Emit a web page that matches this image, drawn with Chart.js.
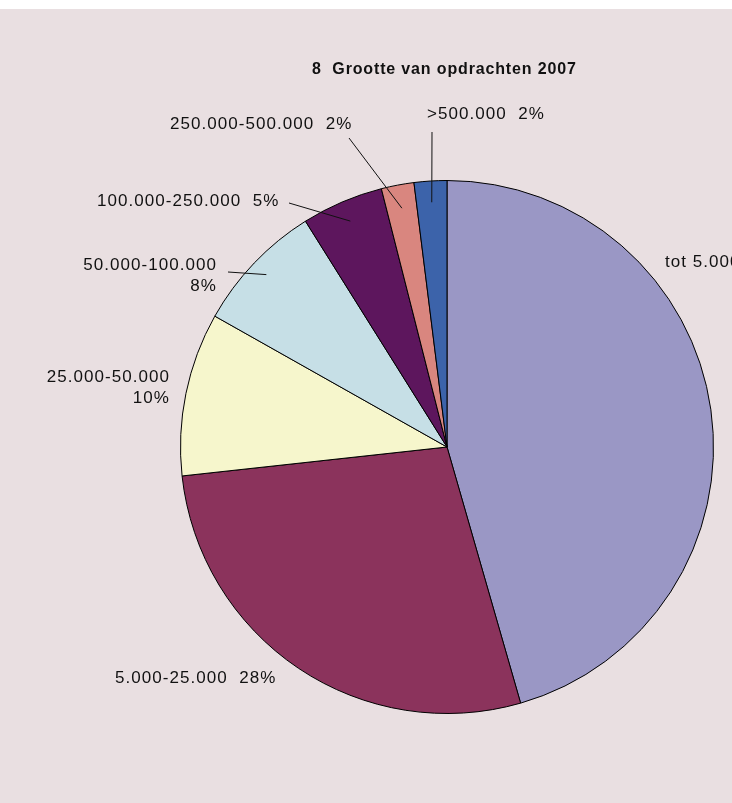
<!DOCTYPE html>
<html>
<head>
<meta charset="utf-8">
<script src="https://cdn.jsdelivr.net/npm/chart.js@4/dist/chart.umd.min.js"></script>
<style>
  html, body { margin: 0; padding: 0; background: #ffffff; }
  #wrap { position: absolute; left: 0; top: 9px; width: 732px; height: 794px; background: #e9dfe1; overflow: hidden; }
  canvas { display: block; }
</style>
</head>
<body>
<div id="wrap"><canvas id="chart" width="732" height="794"></canvas></div>
<script>
// Order size classes of assignments, 2007 (share of number of assignments, %)
const chartTitle = '8  Grootte van opdrachten 2007';
const categories = ['tot 5.000', '5.000-25.000', '25.000-50.000', '50.000-100.000', '100.000-250.000', '250.000-500.000', '>500.000'];
const shares = [46, 28, 10, 8, 5, 2, 2];
const sliceColors = ['#9a97c5', '#8b335c', '#f6f6cc', '#c6dfe6', '#5d165d', '#d9867f', '#3c63aa'];

// Where each slice label sits (canvas px); two-line labels break before the percentage.
// Leaders start inside the slice at k * radius along its middle angle.
const labelLayout = [
  { x: 665, y: 258, align: 'left',  twoLine: false, leader: null },
  { x: 115, y: 674, align: 'left',  twoLine: false, leader: null },
  { x: 170, y: 373, align: 'right', twoLine: true,  leader: null },
  { x: 217, y: 261, align: 'right', twoLine: true,  leader: { to: [228, 263], k: 0.937 } },
  { x: 97,  y: 197, align: 'left',  twoLine: false, leader: { to: [289, 194], k: 0.922 } },
  { x: 170, y: 120, align: 'left',  twoLine: false, leader: { to: [349, 129], k: 0.912 } },
  { x: 427, y: 110, align: 'left',  twoLine: false, leader: { to: [432, 123], k: 0.92 } }
];

const sliceLabels = {
  id: 'sliceLabels',
  afterDatasetsDraw(chart) {
    const ctx = chart.ctx;
    const meta = chart.getDatasetMeta(0);
    ctx.save();

    // title
    ctx.fillStyle = '#111111';
    ctx.font = 'bold 16px "Liberation Sans", Arial, sans-serif';
    ctx.letterSpacing = '0.85px';
    ctx.textAlign = 'left';
    ctx.textBaseline = 'alphabetic';
    ctx.fillText(chartTitle, 312, 65);

    // leader lines
    ctx.strokeStyle = '#111111';
    ctx.lineWidth = 1;
    meta.data.forEach((arc, i) => {
      const lay = labelLayout[i];
      if (!lay.leader) return;
      const p = arc.getProps(['x', 'y', 'startAngle', 'endAngle', 'outerRadius'], true);
      const mid = (p.startAngle + p.endAngle) / 2;
      const r = p.outerRadius * lay.leader.k;
      ctx.beginPath();
      ctx.moveTo(p.x + Math.cos(mid) * r, p.y + Math.sin(mid) * r);
      ctx.lineTo(lay.leader.to[0], lay.leader.to[1]);
      ctx.stroke();
    });

    // labels
    ctx.font = '17px "Liberation Sans", Arial, sans-serif';
    ctx.letterSpacing = '1.05px';
    categories.forEach((name, i) => {
      const lay = labelLayout[i];
      const pct = shares[i] + '%';
      ctx.textAlign = lay.align;
      if (lay.twoLine) {
        ctx.fillText(name, lay.x, lay.y);
        ctx.fillText(pct, lay.x, lay.y + 21);
      } else {
        ctx.fillText(name + '  ' + pct, lay.x, lay.y);
      }
    });
    ctx.restore();
  }
};

new Chart(document.getElementById('chart'), {
  type: 'pie',
  data: {
    labels: categories,
    datasets: [{
      data: shares,
      backgroundColor: sliceColors,
      borderColor: '#000000',
      borderWidth: 1,
      hoverBorderWidth: 1,
      hoverOffset: 0
    }]
  },
  options: {
    responsive: false,
    devicePixelRatio: 1,
    animation: false,
    rotation: 0,
    layout: { padding: { left: 180, right: 18, top: 171, bottom: 89 } },
    plugins: {
      legend: { display: false },
      tooltip: { enabled: false },
      title: { display: false }
    }
  },
  plugins: [sliceLabels]
});
</script>
</body>
</html>
